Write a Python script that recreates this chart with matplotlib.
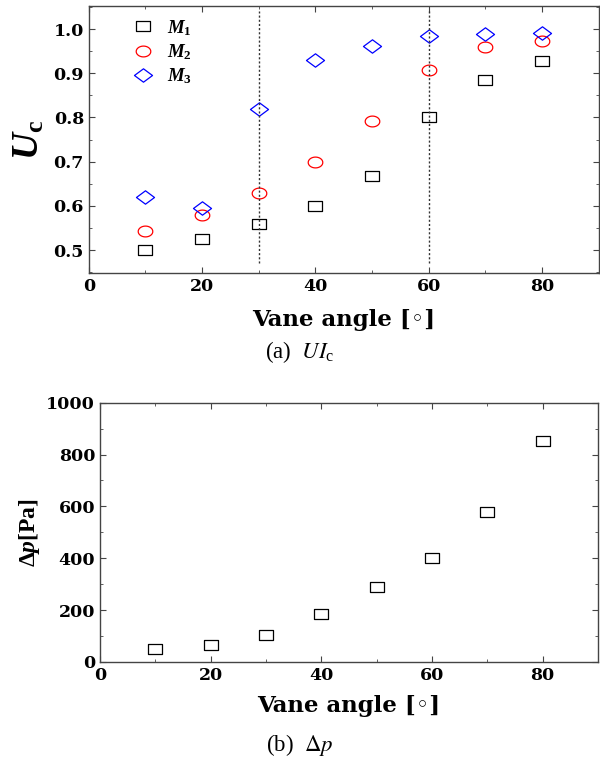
import matplotlib
matplotlib.use("Agg")
import matplotlib.pyplot as plt
from matplotlib.ticker import MultipleLocator, FormatStrFormatter
from matplotlib.path import Path
import numpy as np

plt.rcParams['font.family'] = ['Liberation Serif', 'DejaVu Serif']
plt.rcParams['mathtext.fontset'] = 'custom'
plt.rcParams['mathtext.rm'] = 'Liberation Serif:bold'
plt.rcParams['mathtext.it'] = 'Liberation Serif:italic:bold'
plt.rcParams['mathtext.bf'] = 'Liberation Serif:bold'

angles = [10, 20, 30, 40, 50, 60, 70, 80]
m1 = [0.500, 0.525, 0.558, 0.600, 0.667, 0.801, 0.884, 0.928]
m2 = [0.544, 0.580, 0.630, 0.699, 0.792, 0.907, 0.959, 0.972]
m3 = [0.621, 0.595, 0.820, 0.930, 0.962, 0.984, 0.990, 0.991]
dp = [48, 64, 105, 185, 290, 402, 577, 853]
series_labels = [r'$M_1$', r'$M_2$', r'$M_3$']
vlines_x = [30, 60]

sq = Path([(-1.35, -1), (1.35, -1), (1.35, 1), (-1.35, 1), (-1.35, -1)],
          [1, 2, 2, 2, 79])
t = np.linspace(0, 2 * np.pi, 60)
ell = Path(np.column_stack([1.35 * np.cos(t), np.sin(t)]))
dia = Path([(0, -1), (1.35, 0), (0, 1), (-1.35, 0), (0, -1)], [1, 2, 2, 2, 79])

tickfont = dict(family='DejaVu Serif', weight='bold', size=12.5)
labfont = dict(family='DejaVu Serif', weight='bold', size=16.5)

fig = plt.figure(figsize=(6.0, 7.67), dpi=100)
ax1 = fig.add_axes([0.148, 0.644, 0.850, 0.348])
ax2 = fig.add_axes([0.1667, 0.137, 0.830, 0.338])

spc = '#444444'
for ax in (ax1, ax2):
    for s in ax.spines.values():
        s.set_color(spc)
        s.set_linewidth(1.0)
    ax.tick_params(which='both', direction='in', top=True, right=True,
                   colors=spc, labelcolor='black')
    ax.tick_params(which='major', length=4)
    ax.tick_params(which='minor', length=2.5)

ms = 10.5
ax1.plot(angles, m1, linestyle='none', marker=sq, markersize=ms,
         markerfacecolor='none', markeredgecolor='black', markeredgewidth=0.9,
         label=series_labels[0])
ax1.plot(angles, m2, linestyle='none', marker=ell, markersize=ms,
         markerfacecolor='none', markeredgecolor='red', markeredgewidth=0.9,
         label=series_labels[1])
ax1.plot(angles, m3, linestyle='none', marker=dia, markersize=ms + 2.5,
         markerfacecolor='none', markeredgecolor='blue', markeredgewidth=0.9,
         label=series_labels[2])
ax1.vlines(vlines_x, 0.47, 1.04, colors='#333333', linestyles=(0, (1.5, 1.5)),
           linewidth=1.0)
ax1.set_xlim(0, 90)
ax1.set_ylim(0.448, 1.052)
ax1.xaxis.set_major_locator(MultipleLocator(20))
ax1.xaxis.set_minor_locator(MultipleLocator(10))
ax1.yaxis.set_major_locator(MultipleLocator(0.1))
ax1.yaxis.set_minor_locator(MultipleLocator(0.05))
ax1.yaxis.set_major_formatter(FormatStrFormatter('%.1f'))
ax1.set_xlabel('Vane angle [◦]', fontdict=labfont, labelpad=10)
ax1.set_ylabel(r'$U_\mathrm{c}$', fontsize=27, labelpad=5)
ax1.legend(loc='upper left', bbox_to_anchor=(0.052, 1.005), frameon=False,
           fontsize=13.5, handletextpad=0.45, labelspacing=0.25,
           borderaxespad=0.3, handlelength=1.6)

ax2.plot(angles, dp, linestyle='none', marker=sq, markersize=ms,
         markerfacecolor='none', markeredgecolor='black', markeredgewidth=0.9)
ax2.set_xlim(0, 90)
ax2.set_ylim(0, 1000)
ax2.xaxis.set_major_locator(MultipleLocator(20))
ax2.xaxis.set_minor_locator(MultipleLocator(10))
ax2.yaxis.set_major_locator(MultipleLocator(200))
ax2.yaxis.set_minor_locator(MultipleLocator(100))
ax2.set_xlabel('Vane angle [◦]', fontdict=labfont, labelpad=8)
ax2.set_ylabel(r'$\mathit{\Delta p}$[Pa]', fontsize=17, fontweight='bold',
               labelpad=3)

for ax in (ax1, ax2):
    for lab in ax.get_xticklabels() + ax.get_yticklabels():
        lab.set_fontfamily(tickfont['family'])
        lab.set_fontweight(tickfont['weight'])
        lab.set_fontsize(tickfont['size'])

fig.text(0.5, 1 - 352 / 767, r'(a)  $UI_{\mathregular{c}}$', ha='center', va='center',
         fontsize=16.5, math_fontfamily='stix')
fig.text(0.5, 1 - 745 / 767, r'(b)  $\mathit{\Delta p}$', ha='center', va='center',
         fontsize=16.5, math_fontfamily='stix')

fig.savefig('out.png', dpi=100)
